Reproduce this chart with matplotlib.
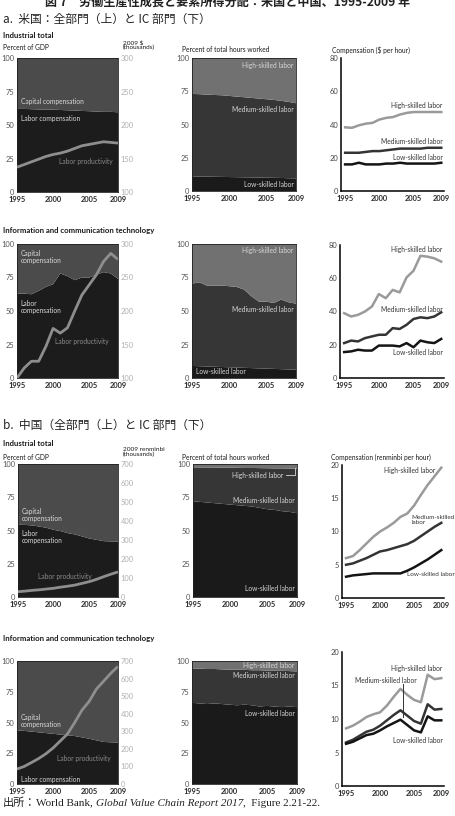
import matplotlib
matplotlib.use('Agg')
import matplotlib.pyplot as plt

W, H = 456, 816
years = list(range(1995, 2010))
xticks = [1995, 2000, 2005, 2009]

# ---------------- United States: industrial total ----------------
us_tot_labor = [62.0, 62.0, 61.8, 61.6, 61.5, 61.5, 61.2, 61.0, 60.8, 60.5, 60.3, 60.0, 59.8, 59.8, 59.5]
us_tot_capital = [38.0, 38.0, 38.2, 38.4, 38.5, 38.5, 38.8, 39.0, 39.2, 39.5, 39.7, 40.0, 40.2, 40.2, 40.5]
us_tot_prod = [137, 141, 145, 149, 153, 156, 158, 161, 165, 169, 171, 173, 175, 174, 173]
us_tot_h_low = [11.0, 10.9, 10.8, 10.7, 10.6, 10.5, 10.4, 10.3, 10.2, 10.1, 10.0, 9.9, 9.8, 9.6, 9.5]
us_tot_h_med = [62.0, 61.9, 61.7, 61.5, 61.4, 61.0, 60.6, 60.2, 59.8, 59.4, 59.0, 58.6, 58.0, 57.4, 56.5]
us_tot_h_high = [27.0, 27.2, 27.5, 27.8, 28.0, 28.5, 29.0, 29.5, 30.0, 30.5, 31.0, 31.5, 32.2, 33.0, 34.0]
us_tot_c_high = [38.3, 38.0, 39.5, 40.5, 41.0, 43.0, 44.0, 44.5, 46.0, 47.0, 47.5, 47.5, 47.5, 47.5, 47.5]
us_tot_c_med = [23.0, 23.0, 23.0, 23.5, 24.0, 24.0, 24.5, 25.0, 25.5, 25.5, 25.5, 25.5, 26.0, 26.0, 26.0]
us_tot_c_low = [16.0, 16.0, 17.0, 16.0, 16.0, 16.0, 16.5, 16.5, 17.0, 16.5, 16.5, 16.5, 16.5, 16.5, 17.0]

# ---------------- United States: ICT ----------------
us_ict_labor = [63, 63, 62.5, 65, 68, 70, 78, 76, 73, 75, 75, 77, 79, 78, 74]
us_ict_capital = [37, 37, 37.5, 35, 32, 30, 22, 24, 27, 25, 25, 23, 21, 22, 26]
us_ict_prod = [100, 115, 125, 125, 147, 174, 167, 175, 200, 224, 239, 254, 274, 286, 277]
us_ict_h_low = [9.0, 8.8, 8.6, 8.4, 8.2, 8.0, 7.8, 7.6, 7.4, 7.2, 7.0, 6.8, 6.6, 6.4, 6.2]
us_ict_h_med = [61.4, 62.6, 60.4, 60.6, 60.8, 60.5, 60.2, 58.4, 53.6, 49.8, 50.0, 49.2, 51.9, 50.1, 49.3]
us_ict_h_high = [29.6, 28.6, 31.0, 31.0, 31.0, 31.5, 32.0, 34.0, 39.0, 43.0, 43.0, 44.0, 41.5, 43.5, 44.5]
us_ict_c_high = [39.0, 37.0, 38.0, 40.0, 43.0, 50.5, 48.0, 53.0, 51.5, 60.5, 64.5, 73.5, 73.0, 72.0, 70.0]
us_ict_c_med = [21.0, 22.5, 22.0, 24.0, 25.0, 26.0, 26.0, 30.0, 29.5, 32.0, 35.5, 36.5, 36.0, 37.0, 39.5]
us_ict_c_low = [15.6, 16.0, 17.0, 16.5, 16.5, 19.5, 19.5, 19.5, 19.0, 21.0, 18.5, 22.5, 21.5, 21.0, 23.5]

# ---------------- China: industrial total ----------------
cn_tot_labor = [54.3, 54.2, 53.8, 53.0, 52.0, 50.5, 49.5, 48.0, 47.0, 45.5, 44.0, 43.0, 42.0, 41.8, 41.7]
cn_tot_capital = [45.7, 45.8, 46.2, 47.0, 48.0, 49.5, 50.5, 52.0, 53.0, 54.5, 56.0, 57.0, 58.0, 58.2, 58.3]
cn_tot_prod = [28, 31, 35, 38, 42, 46, 52, 57, 63, 72, 81, 93, 107, 120, 132]
cn_tot_h_low = [72.0, 71.5, 71.0, 70.5, 70.0, 69.5, 69.0, 68.5, 68.0, 67.0, 66.0, 65.5, 64.5, 64.0, 63.0]
cn_tot_h_med = [25.5, 25.9, 26.4, 26.8, 27.2, 27.7, 28.1, 28.5, 29.0, 29.9, 30.8, 31.2, 32.2, 32.6, 33.5]
cn_tot_h_high = [2.5, 2.6, 2.6, 2.7, 2.8, 2.8, 2.9, 3.0, 3.0, 3.1, 3.2, 3.3, 3.3, 3.4, 3.5]
cn_tot_c_high = [6.0, 6.3, 7.2, 8.2, 9.2, 10.0, 10.6, 11.3, 12.2, 12.7, 13.9, 15.5, 17.0, 18.3, 19.6]
cn_tot_c_med = [5.0, 5.2, 5.6, 6.0, 6.5, 7.0, 7.2, 7.5, 7.8, 8.1, 8.6, 9.3, 10.0, 10.7, 11.3]
cn_tot_c_low = [3.2, 3.4, 3.5, 3.6, 3.7, 3.7, 3.7, 3.7, 3.7, 4.1, 4.6, 5.2, 5.8, 6.5, 7.2]

# ---------------- China: ICT ----------------
cn_ict_labor = [43.4, 43.2, 42.6, 42.0, 41.4, 40.8, 40.2, 39.6, 39.0, 37.9, 36.8, 35.5, 34.2, 33.9, 33.7]
cn_ict_capital = [56.6, 56.8, 57.4, 58.0, 58.6, 59.2, 59.8, 60.4, 61.0, 62.1, 63.2, 64.5, 65.8, 66.1, 66.3]
cn_ict_prod = [85, 100, 122, 145, 172, 205, 245, 285, 350, 420, 470, 540, 585, 630, 669]
cn_ict_h_low = [66.0, 65.5, 65.0, 65.5, 65.0, 64.5, 64.0, 64.5, 64.0, 63.0, 63.5, 63.0, 62.5, 63.0, 62.5]
cn_ict_h_med = [28.0, 28.3, 28.5, 28.0, 28.2, 28.5, 29.0, 28.3, 28.5, 29.5, 28.7, 29.0, 29.5, 28.8, 29.0]
cn_ict_h_high = [6.0, 6.2, 6.5, 6.5, 6.8, 7.0, 7.0, 7.2, 7.5, 7.5, 7.8, 8.0, 8.0, 8.2, 8.5]
cn_ict_c_high = [8.6, 9.0, 9.6, 10.3, 10.7, 11.0, 12.0, 13.3, 14.5, 13.6, 12.85, 12.5, 16.6, 15.95, 16.1]
cn_ict_c_med = [6.5, 6.9, 7.5, 8.1, 8.4, 9.0, 9.8, 10.6, 11.3, 10.5, 9.7, 9.3, 12.2, 11.4, 11.5]
cn_ict_c_low = [6.3, 6.6, 7.1, 7.6, 7.8, 8.3, 8.9, 9.4, 9.9, 9.1, 8.3, 8.0, 10.4, 9.8, 9.8]

pct_ticks = [0, 25, 50, 75, 100]
us_prod_ticks = [100, 150, 200, 250, 300]
cn_prod_ticks = [0, 100, 200, 300, 400, 500, 600, 700]
us_comp_ticks = [0, 20, 40, 60, 80]
cn_comp_ticks = [0, 5, 10, 15, 20]

# ---------------- style ----------------
SANS = ['Lato', 'DejaVu Sans']
CJK = ['Noto Sans CJK JP', 'DejaVu Sans']
plt.rcParams['font.family'] = SANS

C_LABOR = '#1c1c1c'
C_CAP = '#4b4b4b'
C_PROD = '#8e8e8e'
C_HLOW = '#1a1a1a'
C_HMED = '#363636'
C_HHIGH = '#717171'
C_LHIGH = '#9a9a9a'
C_LMED = '#343434'
C_LLOW = '#141414'
C_INNER = '#d8d8d8'
TICK = 5.4

fig = plt.figure(figsize=(W / 100, H / 100), dpi=100)


def px_ax(l, t, r, b):
    return fig.add_axes([l / W, 1 - b / H, (r - l) / W, (b - t) / H])


def ftext(x, y, s, **kw):
    kw.setdefault('fontsize', 5)
    kw.setdefault('va', 'center')
    kw.setdefault('ha', 'left')
    return fig.text(x / W, 1 - y / H, s, **kw)


def style_x(ax):
    ax.set_xticks(xticks)
    ax.set_xticklabels([str(v) for v in xticks], fontweight='bold', color='#2a2a2a')
    ax.tick_params(axis='x', length=0, pad=3, labelsize=TICK)


def gdp_panel(ax, labor, capital, prod, rlim, rticks):
    ax.stackplot(years, labor, capital, colors=[C_LABOR, C_CAP], lw=0)
    ax.set_xlim(1995, 2009)
    ax.set_ylim(0, 100)
    ax.set_yticks(pct_ticks)
    ax.tick_params(axis='y', length=0, pad=2, labelsize=TICK, labelcolor='#555555')
    style_x(ax)
    for s in ax.spines.values():
        s.set_color('#222222')
        s.set_linewidth(0.6)
    ax2 = ax.twinx()
    ax2.plot(years, prod, color=C_PROD, lw=2.0, solid_capstyle='butt')
    ax2.set_ylim(*rlim)
    ax2.set_yticks(rticks)
    ax2.tick_params(axis='y', length=0, pad=2, labelsize=TICK, labelcolor='#b0b0b0')
    for s in ax2.spines.values():
        s.set_visible(False)
    return ax2


def hours_panel(ax, low, med, high):
    ax.stackplot(years, low, med, high, colors=[C_HLOW, C_HMED, C_HHIGH], lw=0)
    ax.set_xlim(1995, 2009)
    ax.set_ylim(0, 100)
    ax.set_yticks(pct_ticks)
    ax.tick_params(axis='y', length=0, pad=2, labelsize=TICK, labelcolor='#555555')
    style_x(ax)
    for s in ax.spines.values():
        s.set_color('#222222')
        s.set_linewidth(0.6)


def comp_panel(ax, high, med, low, ylim, yticks):
    ax.plot(years, high, color=C_LHIGH, lw=1.8)
    ax.plot(years, med, color=C_LMED, lw=1.8)
    ax.plot(years, low, color=C_LLOW, lw=1.8)
    ax.set_xlim(1994.4, 2009.4)
    ax.set_ylim(*ylim)
    ax.set_yticks(yticks)
    ax.tick_params(axis='y', length=0, pad=2, labelsize=TICK, labelcolor='#444444')
    style_x(ax)
    ax.spines['top'].set_visible(False)
    ax.spines['right'].set_visible(False)
    ax.spines['left'].set_linewidth(1.1)
    ax.spines['bottom'].set_linewidth(1.1)
    ax.set_facecolor('none')


def inner(ax, x, y, s, ha='left', color=C_INNER, size=4.8):
    ax.text(x, y, s, ha=ha, va='center', color=color, fontsize=size, linespacing=1.0)


# ---------------- headings ----------------
ftext(228, 2, '図 7　労働生産性成長と要素所得分配：米国と中国、1995-2009 年',
      ha='center', fontsize=8.7, family=CJK, fontweight='bold', color='#222222')
ftext(3, 19, 'a.  米国：全部門（上）と IC 部門（下）', fontsize=8.5, family=CJK, color='#222222')
ftext(3, 425, 'b.  中国（全部門（上）と IC 部門（下）', fontsize=8.5, family=CJK, color='#222222')

# ================= US industrial total =================
ftext(3, 36, 'Industrial total', fontsize=5.6, fontweight='bold', color='#1a1a1a')
ftext(3, 48, 'Percent of GDP', fontsize=4.8, color='#1a1a1a')
ftext(123, 45, '2009 $\n(thousands)', fontsize=4.6, color='#1a1a1a', linespacing=1.0)
ftext(182, 49, 'Percent of total hours worked', fontsize=4.8, color='#1a1a1a')
ftext(332, 50, 'Compensation ($ per hour)', fontsize=4.8, color='#1a1a1a')

ax = px_ax(17, 58, 118, 192)
gdp_panel(ax, us_tot_labor, us_tot_capital, us_tot_prod, (100, 300), us_prod_ticks)
inner(ax, 1995.5, 67.5, 'Capital compensation')
inner(ax, 1995.5, 54.5, 'Labor compensation')
inner(ax, 2000.8, 23, 'Labor productivity', color='#8a8a8a')

ax = px_ax(192, 58, 296, 191)
hours_panel(ax, us_tot_h_low, us_tot_h_med, us_tot_h_high)
inner(ax, 2008.7, 94, 'High-skilled labor', ha='right')
inner(ax, 2008.7, 61, 'Medium-skilled labor', ha='right')
inner(ax, 2008.7, 5, 'Low-skilled labor', ha='right')

ax = px_ax(341, 58, 444, 191)
comp_panel(ax, us_tot_c_high, us_tot_c_med, us_tot_c_low, (0, 80), us_comp_ticks)
inner(ax, 2009.2, 51.5, 'High-skilled labor', ha='right', color='#333333')
inner(ax, 2009.2, 29.5, 'Medium-skilled labor', ha='right', color='#333333')
inner(ax, 2009.2, 20.3, 'Low-skilled labor', ha='right', color='#333333')

# ================= US ICT =================
ftext(3, 230, 'Information and communication technology', fontsize=5.6, fontweight='bold', color='#1a1a1a')

ax = px_ax(17, 244, 118, 378)
gdp_panel(ax, us_ict_labor, us_ict_capital, us_ict_prod, (100, 300), us_prod_ticks)
inner(ax, 1995.5, 90, 'Capital\ncompensation')
inner(ax, 1995.5, 53, 'Labor\ncompensation')
inner(ax, 2000.3, 27.5, 'Labor productivity', color='#8a8a8a')

ax = px_ax(192, 244, 296, 378)
hours_panel(ax, us_ict_h_low, us_ict_h_med, us_ict_h_high)
inner(ax, 2008.7, 95.5, 'High-skilled labor', ha='right')
inner(ax, 2008.7, 51, 'Medium-skilled labor', ha='right')
inner(ax, 1995.6, 5, 'Low-skilled labor')

ax = px_ax(340, 245, 444, 378)
comp_panel(ax, us_ict_c_high, us_ict_c_med, us_ict_c_low, (0, 80), us_comp_ticks)
inner(ax, 2009.2, 77, 'High-skilled labor', ha='right', color='#333333')
inner(ax, 2009.2, 41.5, 'Medium-skilled labor', ha='right', color='#333333')
inner(ax, 2009.2, 15.5, 'Low-skilled labor', ha='right', color='#333333')

# ================= China industrial total =================
ftext(3, 444, 'Industrial total', fontsize=5.6, fontweight='bold', color='#1a1a1a')
ftext(3, 457, 'Percent of GDP', fontsize=4.8, color='#1a1a1a')
ftext(123, 452, '2009 renminbi\n(thousands)', fontsize=4.6, color='#1a1a1a', linespacing=1.0)
ftext(182, 457, 'Percent of total hours worked', fontsize=4.8, color='#1a1a1a')
ftext(331, 457, 'Compensation (renminbi per hour)', fontsize=4.8, color='#1a1a1a')

ax = px_ax(18, 464, 118, 597)
gdp_panel(ax, cn_tot_labor, cn_tot_capital, cn_tot_prod, (0, 700), cn_prod_ticks)
inner(ax, 1995.5, 62, 'Capital\ncompensation')
inner(ax, 1995.5, 45, 'Labor\ncompensation')
inner(ax, 2001.5, 15.5, 'Labor productivity', ha='center', color='#8a8a8a')

ax = px_ax(193, 464, 297, 597)
hours_panel(ax, cn_tot_h_low, cn_tot_h_med, cn_tot_h_high)
inner(ax, 2007.2, 91.5, 'High-skilled labor', ha='right')
ax.plot([2007.5, 2008.7, 2008.7], [91.5, 91.5, 97.0], color=C_INNER, lw=0.6)
inner(ax, 2008.7, 72.5, 'Medium-skilled labor', ha='right')
inner(ax, 2008.7, 6.5, 'Low-skilled labor', ha='right')

ax = px_ax(342, 465, 444, 598)
comp_panel(ax, cn_tot_c_high, cn_tot_c_med, cn_tot_c_low, (0, 20), cn_comp_ticks)
inner(ax, 2000.6, 19.1, 'High-skilled labor', color='#333333')
inner(ax, 2004.6, 11.7, 'Medium-skilled\nlabor', color='#333333', size=4.6)
inner(ax, 2003.9, 3.5, 'Low-skilled labor', color='#333333', size=4.6)

# ================= China ICT =================
ftext(3, 638, 'Information and communication technology', fontsize=5.6, fontweight='bold', color='#1a1a1a')

ax = px_ax(17, 661, 118, 784)
gdp_panel(ax, cn_ict_labor, cn_ict_capital, cn_ict_prod, (0, 700), cn_prod_ticks)
inner(ax, 1995.5, 51, 'Capital\ncompensation')
inner(ax, 2000.5, 21, 'Labor productivity', color='#8a8a8a')
inner(ax, 1995.5, 3.5, 'Labor compensation')

ax = px_ax(192, 661, 297, 784)
hours_panel(ax, cn_ict_h_low, cn_ict_h_med, cn_ict_h_high)
inner(ax, 2008.7, 96.5, 'High-skilled labor', ha='right')
inner(ax, 2008.7, 88.5, 'Medium-skilled labor', ha='right')
inner(ax, 2008.7, 57, 'Low-skilled labor', ha='right')

ax = px_ax(342, 652, 444, 786)
comp_panel(ax, cn_ict_c_high, cn_ict_c_med, cn_ict_c_low, (0, 20), cn_comp_ticks)
inner(ax, 2009.2, 17.6, 'High-skilled labor', ha='right', color='#333333')
inner(ax, 1996.3, 15.8, 'Medium-skilled labor', color='#333333')
ax.plot([2003.3, 2003.3], [15.2, 10.3], color='#333333', lw=0.7)
inner(ax, 2009.2, 6.8, 'Low-skilled labor', ha='right', color='#333333')

# ---------------- footer ----------------
fig.canvas.draw()
r = fig.canvas.get_renderer()
x0 = 3 / W
yf = 1 - 803 / H
parts = [('出所：', dict(family=CJK)),
         ('World Bank, ', dict(family=['Liberation Serif'])),
         ('Global Value Chain Report 2017', dict(family=['Liberation Serif'], style='italic')),
         (',  Figure 2.21-22.', dict(family=['Liberation Serif']))]
for s, kw in parts:
    tt = fig.text(x0, yf, s, fontsize=8, va='center', ha='left', color='#222222', **kw)
    bb = tt.get_window_extent(renderer=r)
    x0 += bb.width / W

fig.savefig('out.png', dpi=100)
